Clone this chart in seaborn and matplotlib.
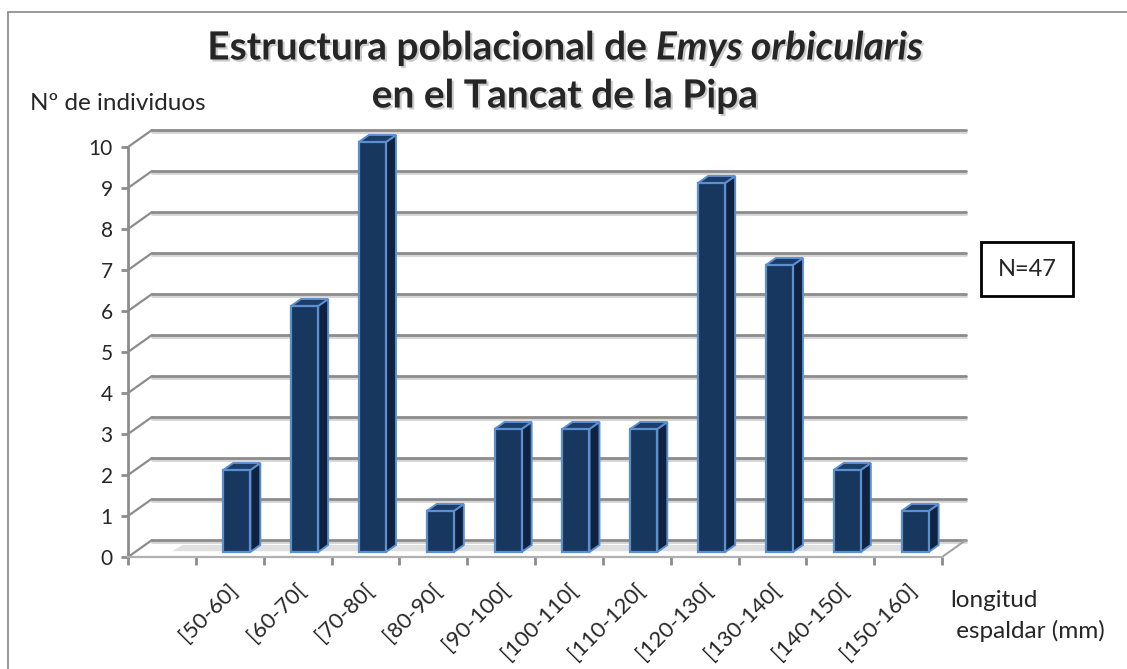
import numpy as np
import pandas as pd
import matplotlib
matplotlib.use('Agg')
import matplotlib.pyplot as plt
import matplotlib.patheffects as pe
from matplotlib.patches import Polygon
from matplotlib.lines import Line2D
from matplotlib.transforms import ScaledTranslation
import seaborn as sns

# ── data ──────────────────────────────────────────────────────────────────────
CLASSES = ["[50-60]", "[60-70[", "[70-80[", "[80-90[", "[90-100[", "[100-110[",
           "[110-120[", "[120-130[", "[130-140[", "[140-150[", "[150-160]"]
COUNTS = [2, 6, 10, 1, 3, 3, 3, 9, 7, 2, 1]
Y_TICKS = list(range(0, 11))
N_TOTAL = sum(COUNTS)

TITLE_1 = "Estructura poblacional de "
TITLE_1_IT = "Emys orbicularis"
TITLE_2 = "en el Tancat de la Pipa"
Y_LABEL = "Nº de individuos"
X_LABEL = "longitud\n espaldar (mm)"

BAR_FRONT = "#17375e"
BAR_SIDE = "#0f2340"
BAR_TOP = "#1b3d68"
BAR_EDGE = "#5c8fd0"
GRID = "#8c8c8c"

sns.set_theme(style="white")
plt.rcParams['font.family'] = ['Lato', 'DejaVu Sans']

df = pd.DataFrame({"clase": CLASSES, "n": COUNTS})

fig = plt.figure(figsize=(11.27, 6.69), dpi=100)
W, H = 1127, 669
ax = fig.add_axes([128 / W, (H - 557) / H, 814 / W, 410 / H])

# pixel offsets used for the fake 3D look
def shift(dx, dy):
    return ScaledTranslation(dx / 100, dy / 100, fig.dpi_scale_trans)

wall = shift(24, 17)
bar_shift = shift(7, 5)
x_lo, x_hi = -1.5, len(CLASSES) - 0.5

ax.set_xlim(x_lo, x_hi)
ax.set_ylim(0, 10)

# back wall gridlines (with a light shadow underneath)
for yv in Y_TICKS:
    ax.plot([x_lo, x_hi], [yv, yv], color="#d4d4d4", lw=2,
            transform=ax.transData + wall + shift(0, -2), clip_on=False, zorder=0)
    ax.plot([x_lo, x_hi], [yv, yv], color=GRID, lw=2,
            transform=ax.transData + wall, clip_on=False, zorder=0.5)

# bars
sns.barplot(data=df, x="clase", y="n", color=BAR_FRONT, width=0.4,
            edgecolor=BAR_EDGE, linewidth=1.6, saturation=1, ax=ax, zorder=3)

dxd = 10 / 67.83
dyd = 7 / 41.0
for p in list(ax.patches):
    if not isinstance(p, matplotlib.patches.Rectangle):
        continue
    x0, w, h = p.get_x(), p.get_width(), p.get_height()
    x1 = x0 + w
    p.set_transform(ax.transData + bar_shift)
    p.set_clip_on(False)
    side = Polygon([(x1, 0), (x1 + dxd, dyd), (x1 + dxd, h + dyd), (x1, h)],
                   closed=True, facecolor=BAR_SIDE, edgecolor=BAR_EDGE, lw=1.4,
                   transform=ax.transData + bar_shift, clip_on=False, zorder=2.9)
    top = Polygon([(x0, h), (x0 + dxd, h + dyd), (x1 + dxd, h + dyd), (x1, h)],
                  closed=True, facecolor=BAR_TOP, edgecolor=BAR_EDGE, lw=1.4,
                  transform=ax.transData + bar_shift, clip_on=False, zorder=2.9)
    ax.add_patch(side)
    ax.add_patch(top)
    # soft shadow on the floor, left of each bar
    shadow = Polygon([(x0 - 0.75, 0.02), (x0, 0.02), (x0 + dxd, dyd), (x0 - 0.6, dyd)],
                     closed=True, facecolor="#c8c8c8", edgecolor="none", alpha=0.55,
                     transform=ax.transData + bar_shift, clip_on=False, zorder=1)
    ax.add_patch(shadow)

# left diagonals of the side wall and right end of the floor
for yv in Y_TICKS:
    ax.add_line(Line2D([x_lo, x_lo + 24 / 67.83], [yv, yv + 17 / 41.0], color=GRID,
                       lw=1.6, clip_on=False, zorder=0.5))
ax.add_line(Line2D([x_hi, x_hi + 24 / 67.83], [0, 17 / 41.0], color="#a0a0a0",
                   lw=1.4, clip_on=False, zorder=0.5))

# axes styling
for s in ["top", "right"]:
    ax.spines[s].set_visible(False)
ax.spines["left"].set_color(GRID)
ax.spines["left"].set_linewidth(2)
ax.spines["bottom"].set_color("#b0b0b0")
ax.spines["bottom"].set_linewidth(1.6)

ax.set_yticks(Y_TICKS)
ax.set_yticklabels([str(v) for v in Y_TICKS], fontsize=15)
ax.tick_params(axis="y", which="major", direction="out", length=5, width=2,
               color=GRID, pad=6, left=True)

ax.set_xticks(range(len(CLASSES)))
ax.set_xticklabels(CLASSES, rotation=45, ha="right", va="center",
                   rotation_mode="anchor", fontsize=16)
ax.tick_params(axis="x", which="major", length=0, pad=21, bottom=True)
ax.set_xticks(np.arange(x_lo, x_hi + 0.5, 1.0), minor=True)
ax.tick_params(axis="x", which="minor", direction="out", length=6, width=2,
               color=GRID, bottom=True)
for lab in ax.get_xticklabels():
    lab.set_transform(lab.get_transform() + shift(5, 0))
ax.set_xlabel("")
ax.set_ylabel("")
ax.grid(False)

# texts
fig.text(30 / W, 1 - 104 / H, Y_LABEL, fontsize=17.5, va="center", ha="left")
fig.text(950 / W, 1 - 616 / H, X_LABEL, fontsize=17.5, va="center", ha="left",
         linespacing=1.45)
fig.text(1027 / W, 1 - 269 / H, f"N={N_TOTAL}", fontsize=17, ha="center", va="center",
         bbox=dict(boxstyle="square,pad=0.7", facecolor="white", edgecolor="black", lw=2))

shadow_fx = [pe.SimplePatchShadow(offset=(1.5, -1.5), shadow_rgbFace="0.6", alpha=0.5),
             pe.Normal()]
t1 = fig.text(0, 1 - 48 / H, TITLE_1, fontsize=28, fontweight="bold",
              va="center", ha="left", path_effects=shadow_fx)
t2 = fig.text(0, 1 - 48 / H, TITLE_1_IT, fontsize=28, fontweight="bold",
              style="italic", va="center", ha="left", path_effects=shadow_fx)
fig.canvas.draw()
r = fig.canvas.get_renderer()
w1 = t1.get_window_extent(r).width
w2 = t2.get_window_extent(r).width
start = 565 - (w1 + w2) / 2
t1.set_x(start / W)
t2.set_x((start + w1) / W)
fig.text(565 / W, 1 - 96 / H, TITLE_2, fontsize=28, fontweight="bold",
         va="center", ha="center", path_effects=shadow_fx)

# outer chart frame
fig.add_artist(Line2D([8 / W, 8 / W], [0, 1 - 12 / H], color="#888888", lw=1.2))
fig.add_artist(Line2D([8 / W, 1], [1 - 12 / H, 1 - 12 / H], color="#888888", lw=1.2))

fig.savefig("out.png", dpi=100)
